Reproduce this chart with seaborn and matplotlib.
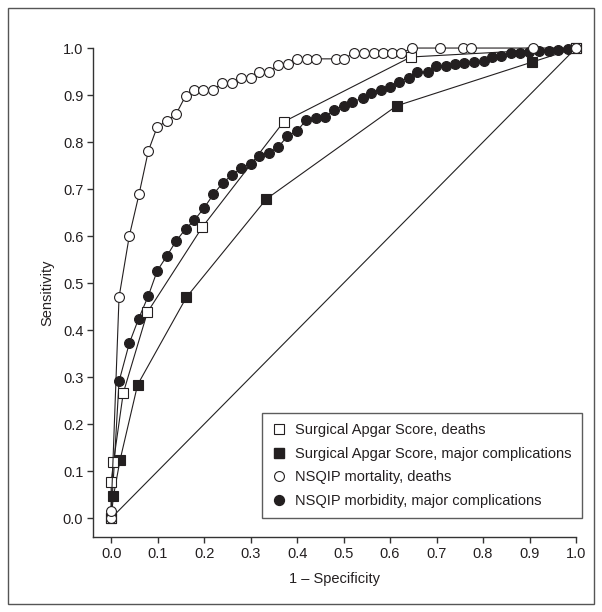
import matplotlib
matplotlib.use("Agg")
import matplotlib.pyplot as plt
import seaborn as sns
from matplotlib.lines import Line2D
from matplotlib.patches import Rectangle

# Surgical Apgar Score, deaths
sas_death_x = [0.0, 0.0, 0.005, 0.026, 0.078, 0.196, 0.371, 0.645, 1.0]
sas_death_y = [0.0, 0.076, 0.119, 0.266, 0.438, 0.619, 0.843, 0.981, 1.0]

# Surgical Apgar Score, major complications
sas_comp_x = [0.0, 0.005, 0.019, 0.057, 0.162, 0.334, 0.614, 0.905, 1.0]
sas_comp_y = [0.0, 0.047, 0.123, 0.284, 0.470, 0.679, 0.877, 0.970, 1.0]

# NSQIP mortality, deaths
nsqip_mort_x = [0.0, 0.0, 0.017, 0.039, 0.060, 0.080, 0.099, 0.120, 0.140, 0.160,
                0.178, 0.198, 0.219, 0.239, 0.260, 0.280, 0.300, 0.319, 0.339, 0.358,
                0.380, 0.400, 0.422, 0.440, 0.483, 0.500, 0.522, 0.543, 0.565, 0.584,
                0.604, 0.624, 0.647, 0.707, 0.756, 0.774, 0.907, 1.0]
nsqip_mort_y = [0.0, 0.016, 0.470, 0.600, 0.689, 0.781, 0.832, 0.845, 0.860, 0.898,
                0.911, 0.911, 0.911, 0.925, 0.925, 0.936, 0.936, 0.949, 0.950, 0.963,
                0.965, 0.977, 0.977, 0.977, 0.977, 0.977, 0.989, 0.989, 0.989, 0.989,
                0.989, 0.989, 1.0, 1.0, 1.0, 1.0, 1.0, 1.0]

# NSQIP morbidity, major complications
nsqip_morb_x = [0.0, 0.017, 0.039, 0.059, 0.080, 0.099, 0.120, 0.140, 0.160, 0.179,
                0.200, 0.220, 0.240, 0.260, 0.279, 0.300, 0.319, 0.339, 0.359, 0.379,
                0.400, 0.420, 0.440, 0.459, 0.479, 0.500, 0.519, 0.541, 0.560, 0.580,
                0.599, 0.620, 0.640, 0.659, 0.681, 0.698, 0.720, 0.739, 0.759, 0.780,
                0.802, 0.819, 0.838, 0.860, 0.879, 0.899, 0.920, 0.942, 0.961, 0.983]
nsqip_morb_y = [0.002, 0.291, 0.372, 0.424, 0.473, 0.526, 0.558, 0.590, 0.615, 0.634,
                0.660, 0.689, 0.713, 0.730, 0.744, 0.754, 0.770, 0.777, 0.789, 0.812,
                0.824, 0.847, 0.852, 0.853, 0.868, 0.877, 0.886, 0.893, 0.905, 0.911,
                0.918, 0.928, 0.937, 0.949, 0.949, 0.962, 0.962, 0.966, 0.968, 0.970,
                0.972, 0.981, 0.983, 0.989, 0.989, 0.991, 0.994, 0.994, 0.996, 0.998]

diag_x = [0.0, 1.0]
diag_y = [0.0, 1.0]

labels = ["Surgical Apgar Score, deaths",
          "Surgical Apgar Score, major complications",
          "NSQIP mortality, deaths",
          "NSQIP morbidity, major complications"]

x_ticks = [0.0, 0.1, 0.2, 0.3, 0.4, 0.5, 0.6, 0.7, 0.8, 0.9, 1.0]
y_ticks = [0.0, 0.1, 0.2, 0.3, 0.4, 0.5, 0.6, 0.7, 0.8, 0.9, 1.0]

sns.set_style("ticks")
plt.rcParams["font.family"] = ["Liberation Sans", "DejaVu Sans"]

ink = "#231f20"
fig = plt.figure(figsize=(6.02, 6.12), dpi=100)
ax = fig.add_axes([0.1545, 0.1225, 0.8023, 0.799])

lw = 0.8
ms = 7.1
sns.lineplot(x=diag_x, y=diag_y, ax=ax, color="#222222", linewidth=lw, sort=False,
             estimator=None, zorder=1)
sns.lineplot(x=nsqip_morb_x, y=nsqip_morb_y, ax=ax, color=ink, linewidth=lw,
             marker="o", markersize=ms, markerfacecolor=ink, markeredgecolor=ink,
             markeredgewidth=0.8, sort=False, estimator=None, zorder=2, clip_on=False)
sns.lineplot(x=sas_comp_x, y=sas_comp_y, ax=ax, color=ink, linewidth=lw,
             marker="s", markersize=6.8, markerfacecolor=ink, markeredgecolor=ink,
             markeredgewidth=0.8, sort=False, estimator=None, zorder=3, clip_on=False)
sns.lineplot(x=sas_death_x, y=sas_death_y, ax=ax, color=ink, linewidth=lw,
             marker="s", markersize=7.2, markerfacecolor="white", markeredgecolor=ink,
             markeredgewidth=0.8, sort=False, estimator=None, zorder=4, clip_on=False)
sns.lineplot(x=nsqip_mort_x, y=nsqip_mort_y, ax=ax, color=ink, linewidth=lw,
             marker="o", markersize=ms, markerfacecolor="white", markeredgecolor=ink,
             markeredgewidth=0.8, sort=False, estimator=None, zorder=5, clip_on=False)

ax.set_xlim(-0.039, 1.0)
ax.set_ylim(-0.040, 1.0)
ax.set_xticks(x_ticks)
ax.set_yticks(y_ticks)
ax.set_xticklabels([f"{v:.1f}" for v in x_ticks])
ax.set_yticklabels([f"{v:.1f}" for v in y_ticks])
sns.despine(ax=ax)
for s in ["left", "bottom"]:
    ax.spines[s].set_linewidth(1.0)
    ax.spines[s].set_color("#333333")
ax.tick_params(axis="both", direction="out", length=4, width=1.0, color="#333333",
               labelsize=10.5, labelcolor=ink, pad=3)
ax.set_xlabel("1 – Specificity", fontsize=10.5, color=ink, labelpad=8)
ax.set_ylabel("Sensitivity", fontsize=10.5, color=ink, labelpad=6)

handles = [
    Line2D([], [], linestyle="none", marker="s", markersize=7, markerfacecolor="white",
           markeredgecolor=ink, markeredgewidth=0.8),
    Line2D([], [], linestyle="none", marker="s", markersize=6.6, markerfacecolor=ink,
           markeredgecolor=ink),
    Line2D([], [], linestyle="none", marker="o", markersize=ms, markerfacecolor="white",
           markeredgecolor=ink, markeredgewidth=0.8),
    Line2D([], [], linestyle="none", marker="o", markersize=ms, markerfacecolor=ink,
           markeredgecolor=ink),
]
leg = fig.legend(handles, labels, loc="lower right", bbox_to_anchor=(0.967, 0.1536),
                 bbox_transform=fig.transFigure, frameon=True, fancybox=False,
                 fontsize=10.5, handlelength=1.0, handletextpad=0.6, labelspacing=0.65,
                 borderpad=0.7, borderaxespad=0)
leg.get_frame().set_edgecolor("#333333")
leg.get_frame().set_linewidth(1.0)
for t in leg.get_texts():
    t.set_color(ink)

fig.patches.append(Rectangle((8 / 602, 8 / 612), 586 / 602, 596 / 612, transform=fig.transFigure,
                             fill=False, edgecolor="#555555", linewidth=1.0))

fig.savefig("out.png", dpi=100)
